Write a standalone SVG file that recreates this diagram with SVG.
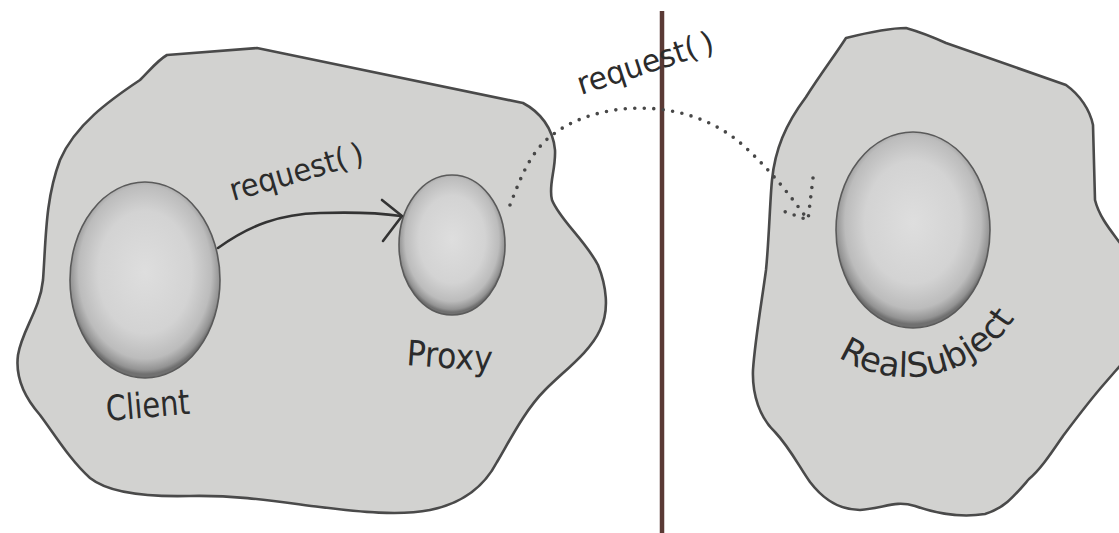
<svg xmlns="http://www.w3.org/2000/svg" width="1119" height="533" viewBox="0 0 1119 533">
  <style>
    .region { fill: #d2d2d0; stroke: #4a4a4a; stroke-width: 2.6; stroke-linejoin: round; }
    .ball { fill: url(#ballGrad); stroke: #5a5a5a; stroke-width: 1.6; }
    .label { font-family: "DejaVu Sans", "Liberation Sans", sans-serif; fill: #2b2b2b; }
    .solid { fill: none; stroke: #333333; stroke-width: 2.6; stroke-linecap: round; stroke-linejoin: round; }
    .dots { fill: none; stroke: #474747; stroke-width: 3.6; stroke-linecap: round; stroke-dasharray: 0 9.5; }
  </style>
  <defs>
    <radialGradient id="ballGrad" cx="50%" cy="46%" r="52%">
      <stop offset="0" stop-color="#dedede"/>
      <stop offset="0.6" stop-color="#d3d3d3"/>
      <stop offset="0.85" stop-color="#bcbcbc"/>
      <stop offset="0.96" stop-color="#939393"/>
      <stop offset="1" stop-color="#707070"/>
    </radialGradient>
    <path id="rsArc" d="M 837.3,356.3 A 128,128 0 0 0 1017.9,313"/>
  </defs>

  <rect width="1119" height="533" fill="#ffffff"/>

  <g id="left-region">
    <path class="region" d="M 167,55 L 257,48 L 523,103 C 540,112 553,128 555,150 C 556,170 548,185 552,200 C 560,220 585,240 598,265 C 606,285 610,310 600,330 C 590,352 565,370 545,390 C 525,410 510,440 497,462 C 485,485 465,503 430,510 C 400,516 360,512 320,507 C 280,502 240,495 190,496 C 150,497 110,494 90,478 C 70,460 55,435 40,415 C 25,398 15,378 18,355 C 22,330 40,310 43,280 C 46,240 45,200 60,160 C 75,125 110,100 140,80 C 150,70 158,60 167,55 Z"/>
  </g>

  <g id="right-region">
    <path class="region" d="M 846,38 C 870,32 890,28 906,28 C 920,32 935,38 946,43 L 1066,85 C 1080,95 1090,110 1093,125 L 1095,200 C 1100,220 1115,235 1125,250 L 1125,360 C 1118,368 1112,375 1105,383 C 1090,400 1075,420 1063,436 C 1050,455 1040,470 1029,479 C 1015,495 1005,508 985,514 C 960,518 935,513 915,506 C 895,500 885,508 860,510 C 835,510 820,495 810,482 C 800,468 790,448 775,432 C 760,418 752,395 753,370 C 755,340 762,300 766,270 C 769,240 770,200 772,180 C 775,150 785,125 806,97 C 820,75 835,55 846,38 Z"/>
  </g>

  <g id="divider">
    <line x1="662" y1="11" x2="662" y2="533" stroke="#5a3a35" stroke-width="4.5"/>
  </g>

  <g id="client">
    <ellipse class="ball" cx="145" cy="280" rx="75" ry="98"/>
    <text class="label" x="107" y="421" font-size="35" textLength="84" lengthAdjust="spacingAndGlyphs" transform="rotate(-5 107 421)">Client</text>
  </g>

  <g id="proxy">
    <ellipse class="ball" cx="452" cy="245" rx="53" ry="70"/>
    <text class="label" x="406" y="365" font-size="35" textLength="86" lengthAdjust="spacingAndGlyphs" transform="rotate(4 406 365)">Proxy</text>
  </g>

  <g id="realsubject">
    <ellipse class="ball" cx="913" cy="230" rx="77" ry="98"/>
    <text class="label" font-size="34"><textPath href="#rsArc" startOffset="1">RealSubject</textPath></text>
  </g>

  <g id="connectors">
    <path class="solid" d="M 218,248 C 250,225 280,214 320,213 C 350,212 380,213 401,216"/>
    <polyline class="solid" points="382,200 402,216 383,241"/>
    <text class="label" x="233" y="201" font-size="31" textLength="138" lengthAdjust="spacingAndGlyphs" transform="rotate(-16 233 201)">request(<tspan dx="6">)</tspan></text>

    <path class="dots" d="M 510,205 C 520,180 530,150 555,133 C 600,100 690,95 746,148 C 770,170 790,195 808,220"/>
    <path class="dots" d="M 813,178 L 808,220 L 780,210"/>
    <text class="label" x="581" y="95" font-size="31" textLength="142" lengthAdjust="spacingAndGlyphs" transform="rotate(-18 581 95)">request(<tspan dx="6">)</tspan></text>
  </g>
</svg>
